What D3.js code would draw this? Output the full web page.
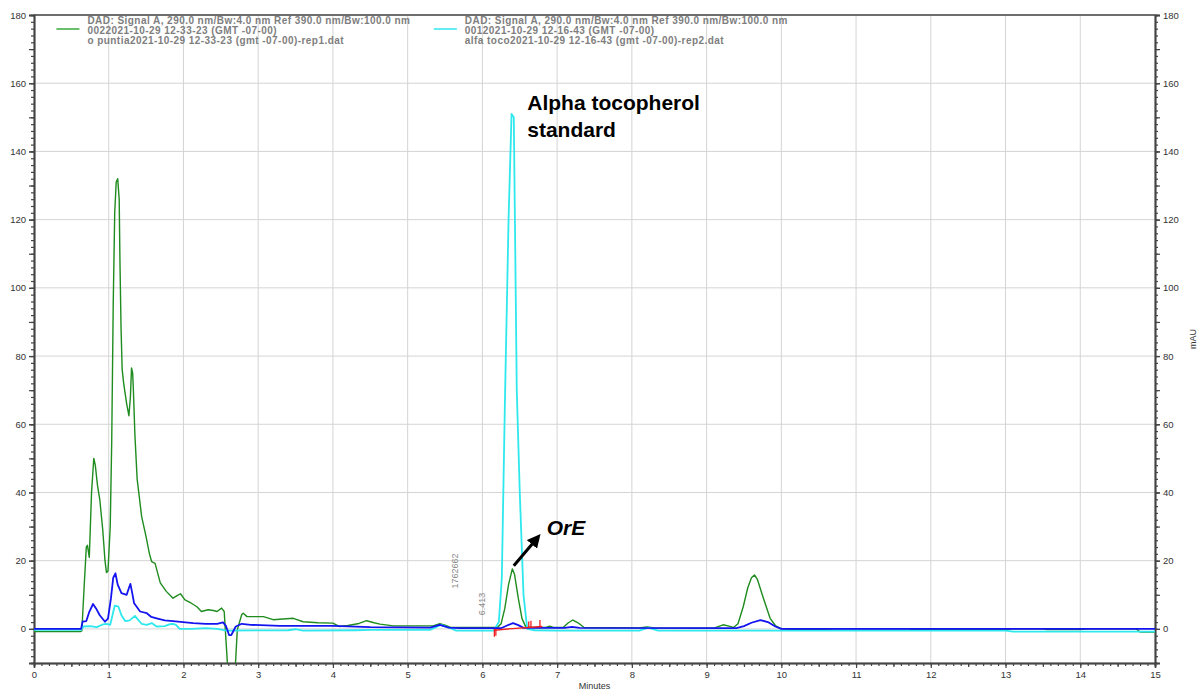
<!DOCTYPE html>
<html>
<head>
<meta charset="utf-8">
<script src="https://cdn.jsdelivr.net/npm/d3@7"></script>
<style>
  body { margin: 0; background: #fff; }
  svg { font-family: "Liberation Sans", Arial, sans-serif; }
</style>
</head>
<body>
<svg id="chart"></svg>
<script>
// chromatogram traces, [minutes, mAU]
const greenTrace = [
  [0,-0.8],[0.62,-0.8],[0.64,-0.6],[0.67,12],[0.70,24],[0.715,24.5],[0.74,21],[0.77,40],[0.80,50],[0.82,48],
  [0.85,42],[0.88,38],[0.92,29],[0.95,20],[0.97,16.5],[0.99,17],[1.02,30],[1.04,55],[1.06,95],[1.08,122],
  [1.10,131],[1.12,132],[1.14,126],[1.15,108],[1.165,88],[1.18,76],[1.20,72],[1.22,69],[1.24,66],[1.27,62.5],
  [1.29,68],[1.305,76.5],[1.32,75],[1.33,70],[1.35,57],[1.38,44],[1.44,33],[1.50,27],[1.545,22],[1.575,19.7],
  [1.62,19.2],[1.69,13.5],[1.77,11],[1.86,9],[1.92,9.8],[1.96,10.3],[2.02,8.5],[2.10,7.6],[2.18,6.5],[2.24,5.1],
  [2.33,5.6],[2.40,5.4],[2.45,5.1],[2.51,6.1],[2.545,5.1],[2.63,-25],[2.66,-25],[2.72,-0.3],[2.78,4.2],[2.80,4.6],
  [2.85,3.6],[3.07,3.6],[3.20,2.7],[3.33,2.9],[3.47,3.1],[3.60,2.1],[3.80,1.8],[4.00,1.7],[4.09,0.7],[4.20,1.0],
  [4.35,1.6],[4.45,2.4],[4.55,1.8],[4.63,1.4],[4.81,0.9],[5.00,0.9],[5.34,0.9],[5.43,1.5],[5.50,1.1],[5.57,0.5],
  [5.70,0.4],[6.20,0.4],[6.25,1.5],[6.30,6],[6.35,13],[6.40,17.6],[6.43,16],[6.48,9],[6.53,3],[6.58,0.6],
  [6.70,0.4],[6.85,0.4],[6.90,0.8],[6.95,0.4],[7.08,0.4],[7.15,1.8],[7.21,2.6],[7.28,1.8],[7.36,0.4],[8.10,0.3],
  [8.20,0.6],[8.30,0.3],[9.10,0.2],[9.22,1.2],[9.30,0.8],[9.36,0.4],[9.42,1.5],[9.49,6.5],[9.55,12],[9.60,15],
  [9.64,15.8],[9.68,14.5],[9.76,9],[9.85,3.1],[9.92,1],[9.98,0.2],[10.1,-0.2],[10.6,-0.2],[10.7,0],[11.7,0],
  [11.75,-0.2],[13.0,-0.2],[13.1,0],[13.5,0],[13.55,-0.2],[14.0,-0.2],[14.1,0],[14.75,0],[14.8,-0.9],[15,-0.9]
];

const blueTrace = [
  [0,0],[0.63,0],[0.65,2.1],[0.70,2.3],[0.74,5],[0.79,7.3],[0.83,6],[0.88,4],[0.95,2.1],[0.99,3],
  [1.03,9],[1.06,15],[1.09,16.3],[1.12,13],[1.17,10.5],[1.24,10],[1.27,12],[1.29,13.2],[1.31,11],[1.34,7.5],
  [1.42,5.1],[1.51,4.6],[1.57,3.5],[1.64,3.1],[1.75,2.5],[1.86,2.3],[2.13,1.7],[2.30,1.5],[2.45,1.5],[2.53,1.9],
  [2.57,0.8],[2.61,-1.8],[2.64,-1.8],[2.70,0.7],[2.78,1.5],[2.90,1.2],[3.29,0.9],[4.00,0.9],[4.50,0.5],[5.30,0.4],
  [5.43,1.2],[5.55,0.4],[5.70,0.2],[6.25,0.2],[6.33,1],[6.41,1.7],[6.48,1.1],[6.55,0.3],[7.10,0.3],[7.20,0.6],
  [7.30,0.3],[9.40,0.2],[9.50,0.8],[9.60,1.8],[9.72,2.6],[9.82,2],[9.92,0.7],[10.0,0],[15,0]
];

const cyanTrace = [
  [0,-0.3],[0.63,-0.3],[0.66,0.7],[0.75,0.8],[0.84,0.5],[0.92,1.3],[0.97,1.5],[1.02,1.2],[1.05,4],[1.08,6.8],
  [1.13,6.5],[1.17,4],[1.22,2.3],[1.28,2.5],[1.35,3.8],[1.40,2.5],[1.44,1.5],[1.51,1.2],[1.575,1.7],[1.64,0.7],
  [1.75,0.8],[1.82,1.4],[1.86,1.5],[1.90,1.2],[1.95,0],[2.10,0],[2.30,0.2],[2.45,0],[2.58,-0.5],[3.40,-0.4],
  [3.50,-0.1],[3.60,-0.5],[4.30,-0.4],[4.50,-0.3],[5.30,-0.3],[5.45,1.2],[5.55,0.4],[5.65,-0.5],[6.15,-0.5],[6.22,2],
  [6.26,15],[6.30,65],[6.35,120],[6.39,151],[6.42,150],[6.46,70],[6.50,40],[6.55,10],[6.60,0],[6.70,-0.4],
  [7.00,-0.5],[8.10,-0.5],[8.22,0.4],[8.35,-0.5],[10,-0.5],[13,-0.5],[13.1,-0.8],[15,-0.8]
];

// integration marks of the 6.413 peak
const redBaseline = [[6.16,-0.4],[6.40,0.1],[6.80,0.7]];
const redTicks = [[6.16,-2.3,0],[6.18,-2.0,0],[6.62,0.5,2.2],[6.65,0.4,2.4],[6.77,0.5,2.6]];

const xTicks = d3.range(0, 16, 1);
const yTicks = d3.range(0, 181, 20);

const legendGreen = [
  "DAD: Signal A, 290.0 nm/Bw:4.0 nm Ref 390.0 nm/Bw:100.0 nm",
  "0022021-10-29 12-33-23 (GMT -07-00)",
  "o puntia2021-10-29 12-33-23 (gmt -07-00)-rep1.dat"
];
const legendCyan = [
  "DAD: Signal A, 290.0 nm/Bw:4.0 nm Ref 390.0 nm/Bw:100.0 nm",
  "0012021-10-29 12-16-43 (GMT -07-00)",
  "alfa toco2021-10-29 12-16-43 (gmt -07-00)-rep2.dat"
];

const width = 1201, height = 692;
const margin = {top: 15, right: 46, bottom: 29, left: 34};

const svg = d3.select('#chart').attr('width', width).attr('height', height);

const x = d3.scaleLinear().domain([0, 15]).range([margin.left, width - margin.right]);
const y = d3.scaleLinear().domain([-10, 180]).range([height - margin.bottom, margin.top]);

svg.append('defs').append('clipPath').attr('id', 'plot-clip')
  .append('rect')
  .attr('x', margin.left).attr('y', margin.top)
  .attr('width', x(15) - x(0)).attr('height', y(-10) - y(180));

// grid
const grid = svg.append('g').attr('stroke', '#d4d4d4').attr('stroke-width', 1);
grid.selectAll('.vg').data(xTicks.slice(1, -1)).join('line')
  .attr('x1', d => x(d)).attr('x2', d => x(d))
  .attr('y1', y(180)).attr('y2', y(-10));
grid.selectAll('.hg').data(yTicks).join('line')
  .attr('x1', x(0)).attr('x2', x(15))
  .attr('y1', d => y(d)).attr('y2', d => y(d));

// axes
const styleAxis = g => g.call(g => g.select('.domain').attr('stroke', '#444').attr('stroke-width', 1.5))
  .call(g => g.selectAll('.tick line').attr('stroke', '#444').attr('stroke-width', 1.2))
  .call(g => g.selectAll('text').attr('fill', '#333').style('font-size', '9.5px').style('font-family', '"Liberation Sans", Arial, sans-serif'));

const minorY = d3.range(-10, 181, 2);
const medY = d3.range(-10, 181, 10);
const minorX = d3.range(0, 15.001, 0.1).map(d => +d.toFixed(1));
const medX = d3.range(0.5, 15, 1);

[['left', d3.axisLeft, margin.left], ['right', d3.axisRight, width - margin.right]].forEach(([side, axisFn, pos]) => {
  svg.append('g').attr('transform', `translate(${pos},0)`)
    .call(axisFn(y).tickValues(minorY).tickSize(3).tickFormat(''))
    .call(styleAxis);
  svg.append('g').attr('transform', `translate(${pos},0)`)
    .call(axisFn(y).tickValues(medY).tickSize(5).tickFormat(''))
    .call(styleAxis);
  svg.append('g').attr('transform', `translate(${pos},0)`)
    .call(axisFn(y).tickValues(yTicks).tickSize(5).tickPadding(3).tickFormat(d3.format('d')))
    .call(styleAxis);
});

svg.append('g').attr('transform', `translate(0,${height - margin.bottom})`)
  .call(d3.axisBottom(x).tickValues(minorX).tickSize(3).tickFormat(''))
  .call(styleAxis);
svg.append('g').attr('transform', `translate(0,${height - margin.bottom})`)
  .call(d3.axisBottom(x).tickValues(medX).tickSize(4).tickFormat(''))
  .call(styleAxis);
svg.append('g').attr('transform', `translate(0,${height - margin.bottom})`)
  .call(d3.axisBottom(x).tickValues(xTicks).tickSize(5).tickPadding(3).tickFormat(d3.format('d')))
  .call(styleAxis);

// top frame
svg.append('line')
  .attr('x1', x(0)).attr('x2', x(15)).attr('y1', y(180)).attr('y2', y(180))
  .attr('stroke', '#444').attr('stroke-width', 1.5);

svg.append('text')
  .attr('x', x(7.5)).attr('y', height - 3)
  .attr('text-anchor', 'middle').attr('fill', '#333').style('font-size', '9px')
  .text('Minutes');
svg.append('text')
  .attr('transform', `translate(${width - 5},${y(85)}) rotate(-90)`)
  .attr('text-anchor', 'middle').attr('fill', '#333').style('font-size', '9px')
  .text('mAU');

// traces
const line = d3.line().x(d => x(d[0])).y(d => y(d[1]));
const traces = svg.append('g').attr('clip-path', 'url(#plot-clip)');

traces.append('path').datum(greenTrace)
  .attr('d', line).attr('fill', 'none').attr('stroke', '#1f8c1f').attr('stroke-width', 1.4)
  .attr('stroke-linejoin', 'round');
traces.append('path').datum(cyanTrace)
  .attr('d', line).attr('fill', 'none').attr('stroke', '#2ee8ee').attr('stroke-width', 1.8)
  .attr('stroke-linejoin', 'round');
traces.append('path').datum(blueTrace)
  .attr('d', line).attr('fill', 'none').attr('stroke', '#1414f0').attr('stroke-width', 1.8)
  .attr('stroke-linejoin', 'round');

traces.append('path').datum(redBaseline)
  .attr('d', line).attr('fill', 'none').attr('stroke', '#f01e1e').attr('stroke-width', 1.3);
traces.selectAll('.red-tick').data(redTicks).join('line')
  .attr('x1', d => x(d[0])).attr('x2', d => x(d[0]))
  .attr('y1', d => y(d[1])).attr('y2', d => y(d[2]))
  .attr('stroke', '#f01e1e').attr('stroke-width', 1.3);

// peak labels
const peakLabels = [[5.63, 17, '1762662'], [6.0, 7.3, '6.413']];
svg.selectAll('.peak-label').data(peakLabels).join('text')
  .attr('transform', d => `translate(${x(d[0]) + 3},${y(d[1])}) rotate(-90)`)
  .attr('text-anchor', 'middle').attr('fill', '#8a8a8a').style('font-size', '9px')
  .text(d => d[2]);

// legend
const legend = [[legendGreen, '#3aa83a', 0.3], [legendCyan, '#2ee8ee', 5.35]];
legend.forEach(([rows, color, t0]) => {
  const g = svg.append('g');
  g.append('line')
    .attr('x1', x(t0)).attr('x2', x(t0) + 23)
    .attr('y1', 29).attr('y2', 29)
    .attr('stroke', color).attr('stroke-width', 1.5);
  g.selectAll('text').data(rows).join('text')
    .attr('x', x(t0) + 31).attr('y', (d, i) => 24 + i * 10)
    .attr('fill', '#7e7e7e').style('font-size', '10px').style('font-weight', 'bold')
    .style('letter-spacing', '0.45px')
    .text(d => d);
});

// annotations
const alpha = svg.append('text')
  .attr('x', x(6.6)).attr('y', y(152))
  .attr('fill', '#000').style('font-size', '21px').style('font-weight', 'bold');
alpha.append('tspan').attr('x', x(6.6)).text('Alpha tocopherol');
alpha.append('tspan').attr('x', x(6.6)).attr('dy', 27).text('standard');

svg.append('text')
  .attr('x', x(6.86)).attr('y', y(27.5))
  .attr('fill', '#000').style('font-size', '21px').style('font-weight', 'bold').style('font-style', 'italic')
  .text('OrE');

const defs = svg.select('defs');
defs.append('marker').attr('id', 'arrow')
  .attr('viewBox', '0 0 10 10').attr('refX', 5).attr('refY', 5)
  .attr('markerWidth', 4.5).attr('markerHeight', 4.5).attr('orient', 'auto')
  .append('path').attr('d', 'M0,0 L10,5 L0,10 z').attr('fill', '#000');

svg.append('line')
  .attr('x1', x(6.42)).attr('y1', y(18.5))
  .attr('x2', x(6.72)).attr('y2', y(26.3))
  .attr('stroke', '#000').attr('stroke-width', 3)
  .attr('marker-end', 'url(#arrow)');
</script>
</body>
</html>
